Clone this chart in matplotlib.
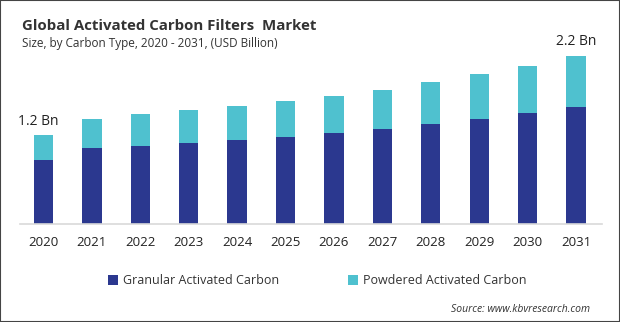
import matplotlib.pyplot as plt
import numpy as np
from matplotlib.patches import Rectangle

years = ["2020", "2021", "2022", "2023", "2024", "2025",
         "2026", "2027", "2028", "2029", "2030", "2031"]
granular = [0.84, 0.99, 1.02, 1.06, 1.10, 1.14, 1.19, 1.24, 1.31, 1.37, 1.45, 1.53]
powdered = [0.33, 0.39, 0.42, 0.43, 0.45, 0.47, 0.48, 0.52, 0.55, 0.59, 0.62, 0.67]
series_names = ["Granular Activated Carbon", "Powdered Activated Carbon"]
colors = ["#2B388F", "#4FC1CF"]

plt.rcParams['font.family'] = ['Open Sans', 'DejaVu Sans']

fig = plt.figure(figsize=(6.2, 3.22), dpi=100)
ax = fig.add_axes([20/620, (322-224)/322, 582/620, 184/322])

x = np.arange(len(years))
total = np.array(granular) + np.array(powdered)
ax.bar(x, granular, width=0.4, color=colors[0], label=series_names[0])
ax.bar(x, powdered, width=0.4, bottom=granular, color=colors[1], label=series_names[1])

ax.set_xlim(-0.486, 11.537)
ax.set_ylim(0, 184/76.4)
ax.set_xticks(x)
ax.set_xticklabels(years, fontsize=9.5, color="#222222")
ax.tick_params(axis='x', length=0, pad=9)
ax.set_yticks([])
for s in ["top", "right", "left"]:
    ax.spines[s].set_visible(False)
ax.spines["bottom"].set_color("#D9D9D9")
ax.spines["bottom"].set_linewidth(1.2)

# value labels for first and last year
ax.annotate("%.1f Bn" % total[0], (x[0], total[0]), xytext=(-4, 4),
            textcoords="offset points", ha="center", va="bottom", fontsize=10, color="#222222")
ax.annotate("%.1f Bn" % total[-1], (x[-1], total[-1]), xytext=(0, 5),
            textcoords="offset points", ha="center", va="bottom", fontsize=10, color="#222222")

fig.text(22/620, 1 - 26/322, "Global Activated Carbon Filters  Market", fontsize=10.8,
         fontweight="bold", color="#333333", va="center")
fig.text(22/620, 1 - 44/322, "Size, by Carbon Type, 2020 - 2031, (USD Billion)", fontsize=8.5,
         color="#333333", va="center")

fig.legend(loc="center left", bbox_to_anchor=(108/620, 1 - 281/322), ncol=2, frameon=False,
           fontsize=9, handlelength=0.8, handleheight=0.8, handletextpad=0.4,
           columnspacing=5.5, labelcolor="#333333", borderpad=0, borderaxespad=0)

fig.text(590/620, 1 - 309/322, "Source: www.kbvresearch.com", fontsize=7.5, style="italic",
         color="#333333", ha="right", va="center")

fig.patches.append(Rectangle((0, 0), 1, 1, transform=fig.transFigure, fill=False,
                             edgecolor="#444444", linewidth=1.5))

fig.savefig("out.png", dpi=100)
